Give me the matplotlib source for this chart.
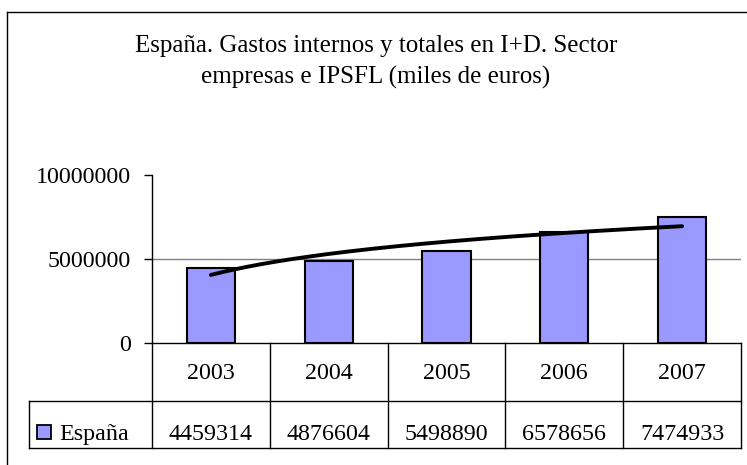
import numpy as np
import matplotlib
matplotlib.use("Agg")
from matplotlib import pyplot as plt
from matplotlib.transforms import blended_transform_factory

plt.rcParams['font.family'] = ['Liberation Serif', 'DejaVu Serif']

# datos
anios = ['2003', '2004', '2005', '2006', '2007']
serie = 'España'
gastos = [4459314, 4876604, 5498890, 6578656, 7474933]
titulo = 'España. Gastos internos y totales en I+D. Sector\nempresas e IPSFL (miles de euros)'
yticks = [0, 5000000, 10000000]

W, H = 747, 465
fs = 17.3
fig = plt.figure(figsize=(W / 100, H / 100), dpi=100)


def fy(py):
    # pixel (desde arriba) -> fraccion de figura
    return 1 - py / H


# area de grafico: solo bordes izquierdo y superior visibles
fig.add_artist(plt.Line2D([7 / W, 7 / W], [fy(12), 0], color='black', lw=1))
fig.add_artist(plt.Line2D([7 / W, 1], [fy(12), fy(12)], color='black', lw=1))

fig.text(376 / W, fy(62), titulo, ha='center', va='center', fontsize=18,
         linespacing=1.45)

ax = fig.add_axes([152 / W, fy(343), (741 - 152) / W, (343 - 175) / H])
x = np.arange(len(anios))
ax.bar(x, gastos, width=0.41, color='#9999ff', edgecolor='black', linewidth=1.5, zorder=3)

# linea de tendencia logaritmica (como Excel)
k = np.arange(1, len(gastos) + 1)
b, a = np.polyfit(np.log(k), gastos, 1)
xs = np.linspace(1, len(gastos), 200)
ax.plot(xs - 1, a + b * np.log(xs), color='black', lw=2.8, zorder=4,
        solid_capstyle='round')

ax.set_xlim(-0.5, len(anios) - 0.5)
ax.set_ylim(0, 10000000)
ax.set_yticks(yticks)
ax.set_yticklabels([str(v) for v in yticks], fontsize=fs)
ax.tick_params(axis='y', length=6, width=1, direction='out', pad=9)
ax.set_xticks([])
ax.axhline(5000000, color='#808080', lw=1, zorder=1)
for s in ['top', 'right']:
    ax.spines[s].set_visible(False)
for s in ['left', 'bottom']:
    ax.spines[s].set_color('black')
    ax.spines[s].set_linewidth(1)

# tabla de datos
tr = blended_transform_factory(ax.transData, fig.transFigure)
trf = fig.transFigure
y0, y1, y2 = fy(343), fy(401), fy(448)
xl = 29 / W
kw = dict(color='black', lw=1, clip_on=False)
for i in range(len(anios) + 1):
    ax.plot([i - 0.5, i - 0.5], [y0, y2], transform=tr, **kw)
ax.plot([xl, 741 / W], [y1, y1], transform=trf, **kw)
ax.plot([xl, 741 / W], [y2, y2], transform=trf, **kw)
ax.plot([xl, xl], [y1, y2], transform=trf, **kw)

for i, (an, v) in enumerate(zip(anios, gastos)):
    ax.text(i, fy(379), an, transform=tr, ha='center', va='baseline', fontsize=fs)
    ax.text(i, fy(440), str(v), transform=tr, ha='center', va='baseline', fontsize=fs)

fig.add_artist(plt.Rectangle((37 / W, fy(439)), 14 / W, 14 / H, transform=trf,
                             facecolor='#9999ff', edgecolor='black', lw=1.3))
fig.text(59 / W, fy(440), serie, ha='left', va='baseline', fontsize=fs)

fig.savefig('out.png', dpi=100)
